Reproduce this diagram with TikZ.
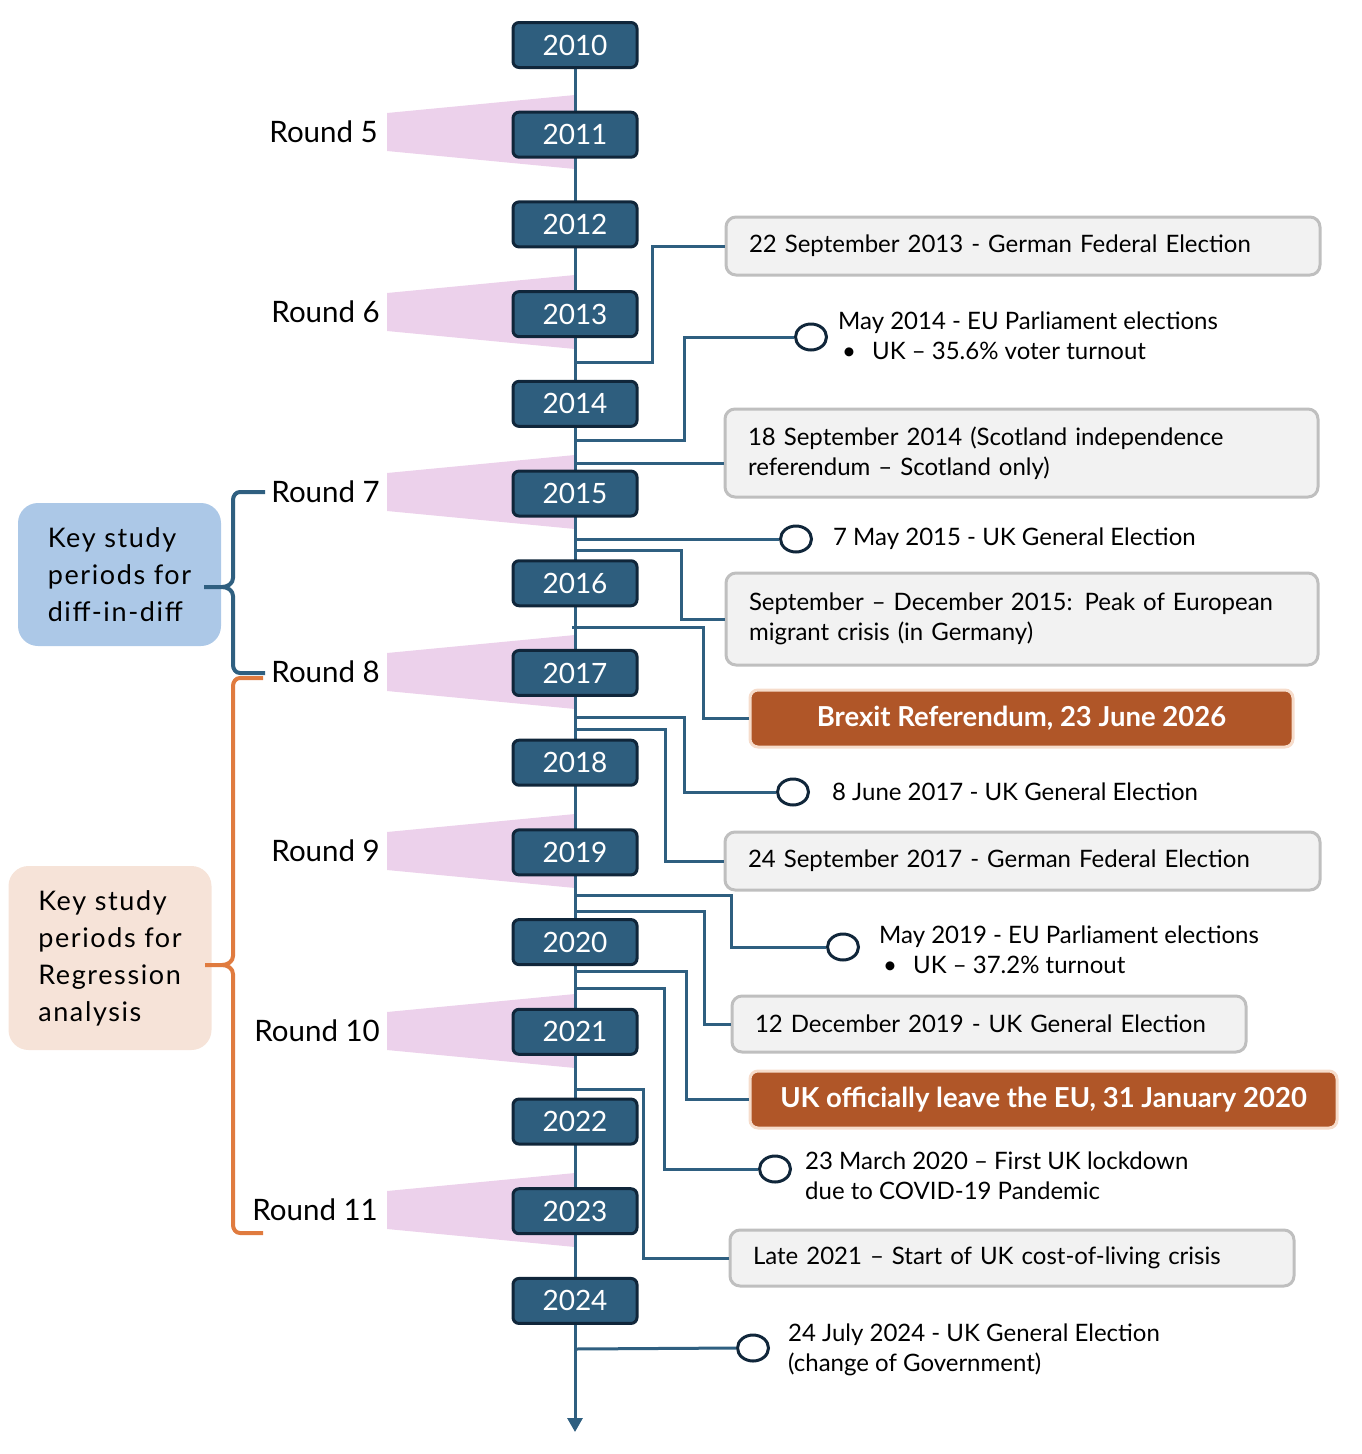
\documentclass[tikz,border=0pt]{standalone}
\usepackage{fontspec}
\setmainfont{Lato}
\newfontfamily\keyfont{Lato}[LetterSpace=6]
\usetikzlibrary{shapes.geometric,arrows.meta}
\definecolor{yrfill}{HTML}{2E5E7E}
\definecolor{yrdraw}{HTML}{10263A}
\definecolor{connc}{HTML}{2F5F80}
\definecolor{pinkr}{HTML}{ECD1EB}
\definecolor{gfill}{HTML}{F2F2F2}
\definecolor{gdraw}{HTML}{BFBFBF}
\definecolor{ofill}{HTML}{B05628}
\definecolor{odraw}{HTML}{F6DCCB}
\definecolor{bluebox}{HTML}{ACC8E7}
\definecolor{peach}{HTML}{F6E3D8}
\definecolor{obrace}{HTML}{E07B3F}
\begin{document}
\begin{tikzpicture}[x=1pt,y=-1pt,
  year/.style={draw=yrdraw, line width=3pt, fill=yrfill, rounded corners=6pt, minimum width=124pt, minimum height=45pt, text=white, font=\fontsize{28}{30}\selectfont, inner sep=0pt},
  roundlbl/.style={anchor=east, font=\fontsize{29.5}{30}\selectfont, inner sep=0pt},
  connline/.style={draw=connc, line width=3pt},
  gbox/.style={draw=gdraw, fill=gfill, line width=3pt, rounded corners=10pt, font=\fontsize{24}{30}\selectfont, align=left, inner xsep=23pt, inner ysep=0pt},
  obox/.style={draw=odraw, fill=ofill, line width=3pt, rounded corners=8pt, font=\bfseries\fontsize{27.5}{30}\selectfont, text=white, inner sep=0pt},
  evcirc/.style={ellipse, draw=yrdraw, fill=white, line width=3pt, minimum width=31pt, minimum height=26pt, inner sep=0pt},
  evtext/.style={anchor=west, font=\fontsize{24}{30}\selectfont, align=left, inner sep=0pt},
  keybox/.style={rounded corners=20pt, inner sep=0pt, align=left, font=\keyfont\fontsize{27}{37}\selectfont},
  bracel/.style={line width=4pt, line join=round}
]
\useasboundingbox (0,0) rectangle (1362,1454);
% pink trapezoids
\foreach \yc in {132,312,492,672,851,1031,1210}
  \fill[pinkr] (387,\yc-19) -- (575,\yc-37) -- (575,\yc+37) -- (387,\yc+19) -- cycle;
% axis
\coordinate (axtop) at (575,45);
\coordinate (axend) at (575,1432);
\draw[connline, -{Triangle[length=14pt,width=15pt]}] (axtop) -- (axend);
% axis coordinates
\coordinate (a1) at (575,362);
\coordinate (a2) at (575,440);
\coordinate (a3) at (575,463);
\coordinate (a4) at (575,539);
\coordinate (a5) at (575,550);
\coordinate (a6) at (572,627);
\coordinate (a7) at (575,717);
\coordinate (a8) at (575,729);
\coordinate (a9) at (575,895);
\coordinate (a10) at (575,911);
\coordinate (a11) at (575,971);
\coordinate (a12) at (575,988);
\coordinate (a13) at (575,1089);
\coordinate (a14) at (575,1349);
% year boxes
\foreach \yr [count=\i from 0] in {2010,2011,2012,2013,2014,2015,2016,2017,2018,2019,2020,2021,2022,2023,2024}
  \node[year] (y\yr) at (575,45+89.71*\i) {\yr};
% round labels
\node[roundlbl] (r5) at (378,132) {Round 5};
\node[roundlbl] (r6) at (380,312) {Round 6};
\node[roundlbl] (r7) at (380,492) {Round 7};
\node[roundlbl] (r8) at (380,672) {Round 8};
\node[roundlbl] (r9) at (380,851) {Round 9};
\node[roundlbl] (r10) at (380,1031) {Round 10};
\node[roundlbl] (r11) at (378,1210) {Round 11};
% event boxes
\node[gbox, text width=548pt, minimum height=58pt] (b1) at (1023,246) {22 September 2013 - German Federal Election};
\node[gbox, text width=547pt, minimum height=88pt] (b3) at (1021.5,453) {18 September 2014 (Scotland independence\\referendum – Scotland only)};
\node[gbox, text width=546pt, minimum height=92pt] (b5) at (1022,619) {September – December 2015: Peak of European\\migrant crisis (in Germany)};
\node[gbox, text width=549pt, minimum height=58pt] (b8) at (1022.5,861) {24 September 2017 - German Federal Election};
\node[gbox, text width=468pt, minimum height=56pt] (b10) at (989,1024) {12 December 2019 - UK General Election};
\node[gbox, text width=518pt, minimum height=56pt] (b13) at (1012,1258) {Late 2021 – Start of UK cost-of-living crisis};
\node[obox, minimum width=543pt, minimum height=57pt] (br) at (1021.5,718.5) {Brexit Referendum, 23 June 2026};
\node[obox, minimum width=587pt, minimum height=57pt] (ul) at (1043.5,1099.5) {UK officially leave the EU, 31 January 2020};
% event circles
\node[evcirc] (c2) at (811,337) {};
\node[evcirc] (c4) at (796,539) {};
\node[evcirc] (c7) at (793,792) {};
\node[evcirc] (c9) at (843,947) {};
\node[evcirc] (c12) at (775,1169) {};
\node[evcirc] (c14) at (753,1348) {};
\node[evtext] (t2) at (838,336) {May 2014 - EU Parliament elections\\\hspace*{4pt}\textbullet\hspace{16pt}UK – 35.6\% voter turnout};
\node[evtext] (t4) at (833,539) {7 May 2015 - UK General Election};
\node[evtext] (t7) at (832,792) {8 June 2017 - UK General Election};
\node[evtext] (t9) at (879,950) {May 2019 - EU Parliament elections\\\hspace*{4pt}\textbullet\hspace{16pt}UK – 37.2\% turnout};
\node[evtext] (t12) at (805,1176) {23 March 2020 – First UK lockdown\\due to COVID-19 Pandemic};
\node[evtext] (t14) at (788,1350) {24 July 2024 - UK General Election\\(change of Government)};
% connectors
\draw[connline] (a1) -- ++(77,0) |- (b1.west);
\draw[connline] (a2) -- ++(109,0) |- (c2.west);
\draw[connline] (a3) -- (a3 -| b3.west);
\draw[connline] (a4) -- (c4.west);
\draw[connline] (a5) -- ++(106,0) |- (b5.west);
\draw[connline] (a6) -- ++(131,0) |- (br.west);
\draw[connline] (a7) -- ++(109,0) |- (c7.west);
\draw[connline] (a8) -- ++(90,0) |- (b8.west);
\draw[connline] (a9) -- ++(156,0) |- (c9.west);
\draw[connline] (a10) -- ++(129,0) |- (b10.west);
\draw[connline] (a11) -- ++(111,0) |- (ul.west);
\draw[connline] (a12) -- ++(89,0) |- (c12.west);
\draw[connline] (a13) -- ++(68,0) |- (b13.west);
\draw[connline] (a14) -- (c14.west);
% key boxes
\node[keybox, fill=bluebox, minimum width=203pt, minimum height=143pt] (kdd) at (119.5,574.5) {Key study\\periods for\\diff-in-diff};
\node[keybox, fill=peach, minimum width=203pt, minimum height=184pt] (kreg) at (110,958) {Key study\\periods for\\Regression\\analysis};
% braces
\draw[bracel, draw=connc] (265,492) -- (240,492) to[out=180,in=90] (233,500) -- (233,578) to[out=-90,in=0] (222,587) -- (204,587)
  (222,587) to[out=0,in=90] (233,596) -- (233,665) to[out=-90,in=180] (240,673) -- (265,673);
\draw[bracel, draw=obrace] (263,678) -- (240,678) to[out=180,in=90] (233,686) -- (233,956) to[out=-90,in=0] (222,965) -- (205,965)
  (222,965) to[out=0,in=90] (233,974) -- (233,1225) to[out=-90,in=180] (240,1233) -- (263,1233);
\end{tikzpicture}
\end{document}
